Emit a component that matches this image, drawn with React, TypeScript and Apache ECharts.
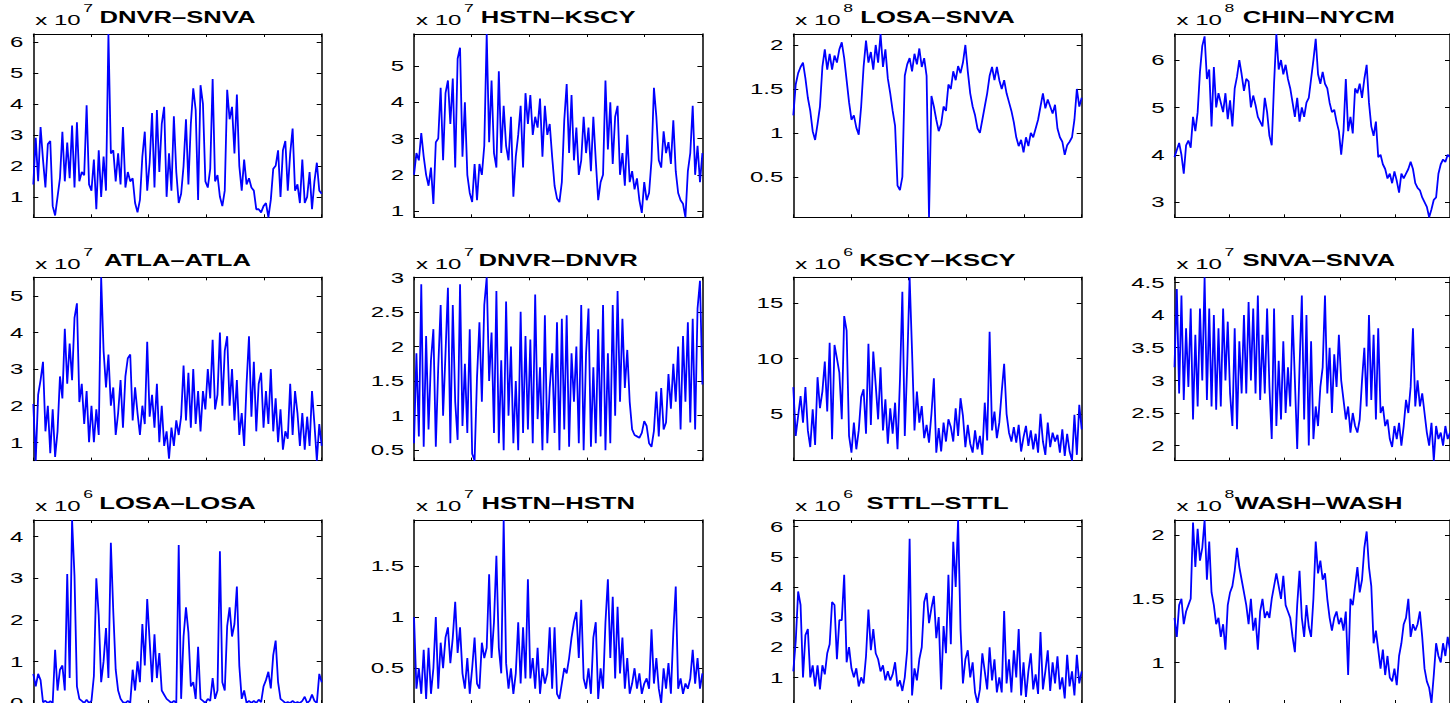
import React, { useEffect, useRef } from "react";
import * as echarts from "echarts";

// ---- data (values in units of 10^exponent) ----
const titles = [
  "DNVR–SNVA", "HSTN–KSCY", "LOSA–SNVA", "CHIN–NYCM",
  "ATLA–ATLA", "DNVR–DNVR", "KSCY–KSCY", "SNVA–SNVA",
  "LOSA–LOSA", "HSTN–HSTN", "STTL–STTL", "WASH–WASH",
];
const exponents = [7, 7, 8, 8, 7, 7, 6, 7, 6, 7, 6, 8];
const yTicks = [
  [1, 2, 3, 4, 5, 6], [1, 2, 3, 4, 5], [0.5, 1, 1.5, 2], [3, 4, 5, 6],
  [1, 2, 3, 4, 5], [0.5, 1, 1.5, 2, 2.5, 3], [5, 10, 15], [2, 2.5, 3, 3.5, 4, 4.5],
  [0, 1, 2, 3, 4], [0.5, 1, 1.5], [1, 2, 3, 4, 5, 6], [1, 1.5, 2],
];

const dnvrSnva = [1.4, 2.9, 1.5, 3.25, 2.2, 1.3, 2.7, 2.8, 0.7, 0.4, 1.0, 1.6, 3.1, 1.5, 2.75, 1.6, 3.3, 1.3, 3.4, 1.5, 1.8, 1.7, 3.95, 1.4, 1.2, 2.2, 0.6, 2.5, 1.0, 2.3, 1.2, 6.25, 2.4, 2.5, 1.5, 2.4, 1.4, 3.25, 1.3, 1.8, 1.5, 1.6, 0.8, 0.5, 0.9, 2.3, 3.1, 1.2, 2.1, 3.7, 1.3, 3.8, 1.8, 3.35, 3.9, 1.0, 2.4, 1.2, 3.6, 1.8, 0.8, 1.1, 2.0, 3.5, 1.4, 3.35, 4.5, 3.8, 0.9, 4.6, 4.0, 1.5, 1.3, 1.9, 4.8, 1.5, 1.7, 1.0, 0.7, 1.2, 4.45, 3.5, 3.9, 2.4, 4.3, 2.0, 1.2, 2.2, 1.4, 1.6, 1.3, 1.2, 0.6, 0.6, 0.5, 0.7, 0.8, 0.34, 0.9, 1.9, 2.0, 2.5, 1.0, 2.5, 2.8, 1.2, 2.4, 3.2, 1.2, 1.4, 0.8, 2.2, 0.8, 1.0, 1.8, 0.6, 1.5, 2.1, 1.2, 1.1];
const hstnKscy = [2.0, 2.6, 2.4, 3.15, 2.5, 2.0, 1.7, 2.2, 1.2, 2.9, 3.0, 4.4, 2.4, 4.25, 4.6, 3.4, 4.65, 2.2, 5.2, 5.5, 2.5, 4.0, 2.0, 1.5, 1.25, 2.3, 1.3, 2.3, 2.0, 2.8, 5.88, 2.9, 4.6, 2.6, 2.2, 4.85, 2.6, 3.9, 2.8, 2.4, 3.6, 1.4, 2.5, 3.1, 3.9, 2.2, 4.25, 3.4, 4.2, 3.1, 3.6, 3.3, 4.1, 2.5, 3.9, 3.1, 3.4, 2.5, 1.7, 1.35, 1.25, 1.8, 3.5, 4.5, 2.6, 4.2, 2.4, 3.3, 2.0, 2.4, 3.6, 2.6, 3.3, 2.1, 3.6, 2.4, 1.3, 1.8, 2.0, 4.6, 2.7, 4.0, 2.3, 3.6, 3.9, 2.0, 2.6, 1.7, 3.1, 1.8, 2.1, 1.6, 1.9, 1.3, 0.95, 1.8, 1.3, 1.5, 2.4, 4.4, 3.6, 2.4, 2.2, 3.2, 2.6, 2.9, 2.3, 3.5, 2.1, 1.5, 1.3, 1.2, 0.83, 2.1, 2.6, 3.9, 2.0, 2.8, 1.8, 2.6];
const losaSnva = [1.2, 1.55, 1.68, 1.75, 1.8, 1.62, 1.4, 1.25, 1.02, 0.92, 1.1, 1.3, 1.75, 1.95, 1.72, 1.9, 1.72, 1.88, 1.8, 1.95, 2.03, 1.85, 1.6, 1.35, 1.15, 1.2, 1.06, 0.98, 1.3, 1.75, 2.05, 1.8, 1.92, 1.72, 2.0, 1.8, 2.125, 1.75, 1.95, 1.62, 1.45, 1.25, 1.08, 0.4, 0.35, 0.5, 1.65, 1.78, 1.85, 1.7, 1.9, 1.78, 1.96, 1.75, 1.85, 1.65, 0.04, 1.42, 1.3, 1.15, 1.02, 1.1, 1.3, 1.25, 1.55, 1.5, 1.7, 1.6, 1.76, 1.68, 1.8, 2.0, 1.7, 1.45, 1.3, 1.2, 1.05, 1.0, 1.15, 1.3, 1.45, 1.65, 1.75, 1.6, 1.75, 1.6, 1.5, 1.6, 1.45, 1.35, 1.25, 1.12, 0.95, 0.85, 0.92, 0.78, 0.95, 0.85, 1.0, 0.95, 1.05, 1.15, 1.3, 1.45, 1.28, 1.38, 1.3, 1.22, 1.32, 1.05, 0.95, 0.9, 0.75, 0.86, 0.9, 0.95, 1.15, 1.5, 1.3, 1.4];
const chinNycm = [3.95, 4.1, 4.25, 4.0, 3.6, 4.2, 4.3, 4.15, 4.8, 4.5, 4.9, 5.75, 6.3, 6.5, 5.6, 5.8, 4.6, 5.85, 5.0, 5.3, 5.1, 4.9, 5.3, 4.75, 5.15, 4.6, 5.4, 5.65, 6.0, 5.7, 5.35, 5.6, 5.55, 5.0, 5.25, 5.05, 4.8, 4.7, 4.6, 5.2, 4.9, 4.4, 4.2, 5.5, 6.55, 5.8, 6.0, 5.7, 5.9, 5.6, 5.4, 5.1, 4.8, 5.2, 4.7, 5.0, 4.8, 5.1, 5.2, 5.6, 6.0, 6.45, 5.7, 5.5, 5.75, 5.5, 5.4, 5.1, 4.9, 4.95, 4.7, 4.5, 4.0, 4.5, 5.6, 4.5, 4.8, 4.45, 5.4, 5.3, 5.5, 5.2, 5.6, 5.9, 5.1, 4.6, 4.4, 4.7, 3.95, 4.0, 3.8, 3.7, 3.5, 3.6, 3.4, 3.65, 3.45, 3.2, 3.6, 3.5, 3.6, 3.7, 3.85, 3.7, 3.4, 3.3, 3.25, 3.1, 3.0, 2.9, 2.68, 2.85, 3.05, 3.1, 3.6, 3.8, 3.9, 3.85, 4.0, 3.95];
const atlaAtla = [2.05, 0.5, 2.3, 2.7, 3.2, 1.3, 2.0, 0.7, 1.9, 0.6, 1.3, 2.8, 2.2, 4.1, 2.6, 3.7, 2.7, 4.4, 4.8, 2.1, 2.6, 1.5, 2.4, 1.0, 2.0, 1.0, 1.9, 1.2, 5.51, 3.5, 2.5, 3.4, 2.0, 2.5, 1.2, 1.8, 2.7, 1.4, 2.8, 3.3, 3.4, 1.6, 2.5, 1.8, 1.2, 2.0, 1.5, 3.75, 1.7, 2.3, 1.4, 2.6, 1.0, 2.0, 0.9, 1.3, 0.55, 1.4, 0.9, 1.6, 1.2, 1.7, 3.1, 1.6, 2.9, 1.4, 3.0, 1.5, 2.4, 1.3, 2.4, 1.9, 3.0, 2.2, 3.8, 1.9, 2.3, 4.0, 2.0, 3.5, 3.9, 2.0, 3.0, 1.6, 2.7, 1.2, 1.8, 0.9, 2.6, 3.9, 1.7, 3.2, 1.3, 2.6, 2.9, 1.4, 2.4, 1.5, 3.0, 1.3, 2.2, 1.0, 1.9, 0.8, 1.3, 1.1, 2.6, 1.2, 2.4, 1.8, 0.9, 1.8, 0.8, 1.7, 0.9, 2.4, 1.5, 0.5, 1.5, 0.9];
const dnvrDnvr = [0.6, 1.9, 0.7, 2.9, 0.55, 2.15, 0.8, 1.8, 2.25, 0.55, 1.7, 2.6, 1.0, 1.9, 2.85, 0.6, 2.6, 1.2, 0.65, 2.9, 0.85, 1.75, 0.75, 2.25, 0.45, 0.35, 1.55, 2.35, 1.2, 2.6, 3.0, 1.5, 2.2, 0.75, 2.8, 0.6, 1.8, 0.5, 2.65, 1.0, 2.0, 0.6, 1.5, 0.5, 2.5, 0.75, 2.15, 0.8, 2.1, 0.6, 2.75, 0.95, 1.7, 0.5, 2.45, 0.6, 1.4, 1.9, 0.75, 2.35, 0.5, 2.4, 0.8, 2.45, 0.55, 1.9, 1.2, 2.0, 0.6, 2.6, 0.5, 1.9, 2.55, 0.55, 1.7, 0.6, 2.25, 0.7, 2.6, 0.5, 1.9, 0.6, 2.6, 1.0, 2.8, 1.2, 2.4, 1.4, 1.95, 1.2, 0.8, 0.72, 0.7, 0.68, 0.75, 0.92, 0.85, 0.6, 0.55, 0.78, 1.35, 0.7, 1.4, 0.8, 0.9, 1.6, 1.1, 1.75, 1.2, 2.0, 0.8, 2.15, 1.2, 2.35, 0.9, 2.4, 0.8, 2.55, 2.95, 1.45];
const kscyKscy = [7.4, 3.0, 4.8, 6.6, 4.2, 7.4, 3.5, 2.0, 5.4, 2.2, 8.3, 5.5, 7.0, 9.7, 5.2, 11.4, 2.7, 11.2, 10.0, 8.7, 4.5, 13.8, 12.5, 3.0, 1.5, 4.2, 1.8, 3.5, 6.5, 7.2, 3.2, 11.3, 4.0, 10.6, 7.6, 4.5, 9.2, 3.5, 6.3, 2.3, 5.5, 3.2, 6.0, 1.8, 8.0, 16.0, 3.0, 9.4, 17.3, 10.6, 3.5, 7.0, 4.2, 5.7, 2.8, 4.0, 2.4, 5.0, 8.2, 1.5, 3.7, 1.6, 4.2, 2.5, 4.5, 3.8, 2.5, 5.5, 3.0, 6.4, 4.8, 2.0, 4.0, 2.3, 1.5, 3.5, 1.8, 3.0, 1.3, 6.0, 2.6, 12.4, 3.5, 5.2, 2.8, 4.2, 7.0, 9.5, 5.0, 3.3, 2.5, 3.8, 2.4, 4.0, 1.6, 2.9, 3.9, 2.1, 3.5, 1.8, 3.2, 1.5, 5.0, 2.5, 1.3, 4.2, 2.0, 3.3, 2.5, 3.1, 1.5, 3.6, 1.2, 3.2, 1.6, 0.78, 4.9, 1.3, 5.8, 3.6];
const snvaSnva = [3.2, 4.4, 2.8, 4.3, 2.7, 3.8, 2.9, 4.1, 2.4, 3.7, 2.6, 4.1, 3.0, 4.58, 2.7, 4.1, 2.6, 4.0, 2.55, 3.8, 2.6, 4.1, 3.0, 3.9, 2.8, 2.3, 3.8, 2.25, 3.6, 2.8, 4.0, 2.8, 4.2, 3.0, 4.1, 2.8, 4.3, 2.7, 3.7, 2.8, 4.1, 2.9, 2.1, 4.1, 2.3, 3.3, 2.4, 3.6, 2.5, 3.2, 2.6, 4.0, 3.0, 1.95, 3.2, 4.3, 2.4, 4.0, 2.0, 3.6, 2.1, 2.6, 2.3, 2.9, 3.2, 4.3, 2.8, 3.5, 2.5, 3.4, 2.9, 3.7, 3.0, 2.7, 2.4, 2.6, 2.2, 2.5, 2.3, 2.2, 2.4, 3.0, 3.5, 2.6, 4.0, 2.7, 3.7, 2.4, 3.8, 2.5, 2.6, 2.3, 2.4, 2.1, 1.98, 2.3, 2.1, 2.35, 2.0, 2.3, 2.7, 2.5, 2.9, 3.8, 2.6, 3.0, 2.6, 2.8, 2.5, 2.2, 2.0, 2.35, 1.77, 2.3, 2.1, 2.2, 2.0, 2.3, 2.1, 2.2];
const losaLosa = [0.7, 0.4, 0.7, 0.55, 0.02, 0.05, 0.0, 0.04, 0.0, 1.28, 0.3, 0.8, 0.9, 0.3, 3.1, 0.6, 4.4, 3.05, 0.4, 0.1, 0.05, 0.0, 0.08, 0.0, 0.05, 0.65, 3.0, 2.1, 0.5, 1.0, 1.8, 0.6, 3.85, 2.2, 0.8, 0.3, 0.1, 0.02, 0.0, 0.05, 0.0, 0.8, 0.3, 1.0, 0.5, 1.9, 0.9, 2.5, 1.5, 0.5, 1.65, 0.6, 1.2, 0.3, 0.2, 0.1, 0.05, 0.0, 0.05, 0.0, 3.8, 0.1, 1.6, 2.3, 1.7, 0.4, 0.5, 0.1, 1.35, 0.1, 0.05, 0.0, 0.1, 0.05, 0.6, 0.1, 0.3, 3.65, 0.5, 0.3, 1.85, 2.3, 1.6, 1.9, 2.8, 0.9, 0.1, 0.3, 0.0, 0.05, 0.0, 0.05, 0.0, 0.08, 0.02, 0.4, 0.55, 0.75, 0.35, 1.15, 1.5, 0.5, 0.1, 0.05, 0.0, 0.02, 0.0, 0.05, 0.0, 0.02, 0.0, 0.05, 0.15, 0.0, 0.05, 0.2, 0.05, 0.0, 0.7, 0.5];
const hstnHstn = [1.0, 0.3, 0.5, 0.25, 0.68, 0.2, 0.7, 0.25, 0.5, 1.0, 0.3, 0.75, 0.5, 0.8, 0.9, 0.55, 0.8, 1.15, 0.65, 0.9, 0.45, 0.3, 0.6, 0.25, 0.5, 0.8, 0.35, 0.3, 0.75, 0.6, 0.7, 1.42, 0.6, 0.95, 1.6, 0.7, 0.45, 1.95, 0.55, 0.3, 0.5, 0.25, 0.45, 0.95, 0.35, 0.9, 0.4, 1.37, 0.4, 0.6, 0.3, 0.7, 0.25, 0.5, 0.35, 0.45, 0.9, 0.3, 0.9, 0.25, 0.2, 0.35, 0.5, 0.45, 0.6, 0.8, 0.95, 1.05, 0.6, 1.17, 0.4, 0.3, 0.5, 0.25, 0.8, 0.95, 0.2, 0.5, 0.3, 0.95, 1.37, 0.6, 1.2, 0.4, 1.1, 0.45, 0.8, 0.3, 0.6, 0.25, 0.35, 0.5, 0.3, 0.45, 0.25, 0.35, 0.4, 0.3, 0.88, 0.35, 0.6, 0.3, 0.16, 0.5, 0.3, 0.55, 0.25, 0.85, 1.3, 0.3, 0.4, 0.25, 0.35, 0.3, 0.4, 0.68, 0.35, 0.6, 0.3, 0.45];
const sttlSttl = [1.2, 2.2, 3.85, 3.4, 1.0, 2.4, 2.6, 1.0, 1.4, 0.7, 1.4, 0.6, 1.4, 1.1, 1.8, 2.1, 3.5, 3.4, 1.6, 2.9, 2.9, 4.4, 1.5, 2.0, 1.3, 1.0, 1.3, 0.7, 1.0, 0.8, 1.7, 3.25, 1.9, 2.6, 1.8, 1.6, 1.2, 1.4, 0.9, 1.2, 0.9, 1.1, 1.5, 0.7, 0.9, 0.55, 1.0, 1.9, 5.6, 0.4, 1.3, 0.9, 1.6, 2.0, 3.5, 3.8, 2.8, 3.3, 3.7, 2.3, 3.0, 0.6, 2.7, 1.8, 4.4, 2.1, 5.5, 4.0, 6.22, 2.6, 0.8, 1.6, 1.9, 1.0, 1.5, 0.5, 0.15, 0.6, 1.8, 1.2, 0.6, 2.0, 0.9, 1.6, 0.5, 1.0, 0.5, 3.2, 0.8, 1.6, 0.5, 1.9, 1.0, 2.6, 0.4, 1.5, 0.35, 1.2, 1.8, 0.6, 1.1, 0.45, 2.5, 0.6, 1.2, 1.9, 0.55, 1.5, 0.8, 1.7, 0.6, 1.0, 0.3, 1.75, 0.7, 1.2, 0.4, 1.75, 0.8, 1.2];
const washWash = [1.35, 1.2, 1.45, 1.5, 1.3, 1.4, 1.45, 1.5, 2.1, 1.75, 2.05, 1.8, 1.9, 2.12, 1.65, 1.95, 1.55, 1.45, 1.3, 1.35, 1.2, 1.3, 1.1, 1.45, 1.55, 1.6, 1.72, 1.9, 1.75, 1.65, 1.55, 1.45, 1.3, 1.5, 1.25, 1.35, 1.1, 1.4, 1.5, 1.35, 1.4, 1.35, 1.5, 1.6, 1.7, 1.6, 1.5, 1.68, 1.45, 1.4, 1.35, 1.2, 1.08, 1.45, 1.72, 1.35, 1.2, 1.45, 1.28, 1.2, 1.5, 1.95, 1.7, 1.8, 1.65, 1.7, 1.5, 1.35, 1.25, 1.35, 1.4, 1.3, 1.35, 1.25, 1.4, 0.9, 1.5, 1.45, 1.6, 1.75, 1.55, 1.65, 1.9, 2.03, 1.75, 1.6, 1.15, 1.25, 1.1, 0.95, 1.1, 0.9, 1.05, 0.88, 0.85, 0.95, 0.82, 1.05, 1.15, 1.3, 1.35, 1.5, 1.2, 1.3, 1.25, 1.3, 1.4, 1.2, 0.95, 0.85, 0.8, 0.68, 0.9, 1.15, 1.05, 1.0, 1.15, 1.05, 1.2, 1.1];

const seriesValues = [
  dnvrSnva, hstnKscy, losaSnva, chinNycm,
  atlaAtla, dnvrDnvr, kscyKscy, snvaSnva,
  losaLosa, hstnHstn, sttlSttl, washWash,
];

// ---- layout ----
const COL_LEFT = [33.3, 414, 793.3, 1174.5];
const ROW_TOP = [34, 277.3, 520];
const GRID_W = 288.4;
const GRID_H = 183.3;
const FONT = "'Liberation Sans', Arial, Helvetica, sans-serif";
const STRETCH = 1.6;

export default function App() {
  const ref = useRef<HTMLDivElement>(null);

  useEffect(() => {
    document.body.style.margin = "0";
    document.body.style.overflow = "hidden";
    const chart = echarts.init(ref.current!, null, { renderer: "svg" });

    const grids: any[] = [];
    const xAxes: any[] = [];
    const yAxes: any[] = [];
    const series: any[] = [];

    seriesValues.forEach((vals, i) => {
      const L = COL_LEFT[i % 4];
      const T = ROW_TOP[Math.floor(i / 4)];
      const n = vals.length;
      const yMin = Math.min(...vals);
      const yMax = Math.max(...vals);
      grids.push({ left: L, top: T, width: GRID_W, height: GRID_H, containLabel: false });
      const xBase = {
        type: "value",
        gridIndex: i,
        min: 0,
        max: n - 1,
        interval: (n - 1) / 5,
        axisLine: { show: true, onZero: false, lineStyle: { color: "#000", width: 1 } },
        axisTick: { show: true, inside: true, length: 3, lineStyle: { color: "#000", width: 1 } },
        axisLabel: { show: false },
        splitLine: { show: false },
      };
      xAxes.push({ ...xBase, position: "bottom" });
      xAxes.push({ ...xBase, position: "top" });
      const yBase = {
        type: "value",
        gridIndex: i,
        min: yMin,
        max: yMax,
        axisLine: { show: true, onZero: false, lineStyle: { color: "#000", width: 1.5 } },
        axisTick: {
          show: true,
          inside: true,
          length: 5,
          customValues: yTicks[i],
          lineStyle: { color: "#000", width: 1 },
        },
        axisLabel: { show: false },
        splitLine: { show: false },
      };
      yAxes.push({ ...yBase, position: "left" });
      yAxes.push({ ...yBase, position: "right" });
      series.push({
        type: "line",
        xAxisIndex: 2 * i,
        yAxisIndex: 2 * i,
        data: vals.map((v, j) => [j, v]),
        showSymbol: false,
        symbol: "none",
        clip: true,
        lineStyle: { color: "#0000ff", width: 1.8 },
      });
    });

    chart.setOption({
      animation: false,
      backgroundColor: "#ffffff",
      grid: grids,
      xAxis: xAxes,
      yAxis: yAxes,
      series,
    });

    const graphics: any[] = [];
    seriesValues.forEach((_, i) => {
      const L = COL_LEFT[i % 4];
      const T = ROW_TOP[Math.floor(i / 4)];
      graphics.push({
        type: "text",
        x: L + 2,
        y: T - 14,
        scaleX: STRETCH,
        style: { text: "x 10", fontSize: 15, fontFamily: FONT, fill: "#000", align: "left", verticalAlign: "middle" },
      });
      graphics.push({
        type: "text",
        x: L + 50,
        y: T - 25.5,
        scaleX: STRETCH,
        style: { text: String(exponents[i]), fontSize: 11, fontFamily: FONT, fill: "#000", align: "left", verticalAlign: "middle" },
      });
      graphics.push({
        type: "text",
        x: L + GRID_W / 2,
        y: T - 16.5,
        scaleX: STRETCH,
        style: { text: titles[i], fontSize: 16, fontWeight: "bold", fontFamily: FONT, fill: "#000", align: "center", verticalAlign: "middle" },
      });
      yTicks[i].forEach((t) => {
        const py = chart.convertToPixel({ yAxisIndex: 2 * i }, t) as number;
        graphics.push({
          type: "text",
          x: L - 10,
          y: py,
          scaleX: STRETCH,
          style: { text: String(t), fontSize: 15, fontFamily: FONT, fill: "#000", align: "right", verticalAlign: "middle" },
        });
      });
    });
    chart.setOption({ graphic: graphics });

    return () => chart.dispose();
  }, []);

  return <div ref={ref} style={{ width: 1450, height: 703 }} />;
}
